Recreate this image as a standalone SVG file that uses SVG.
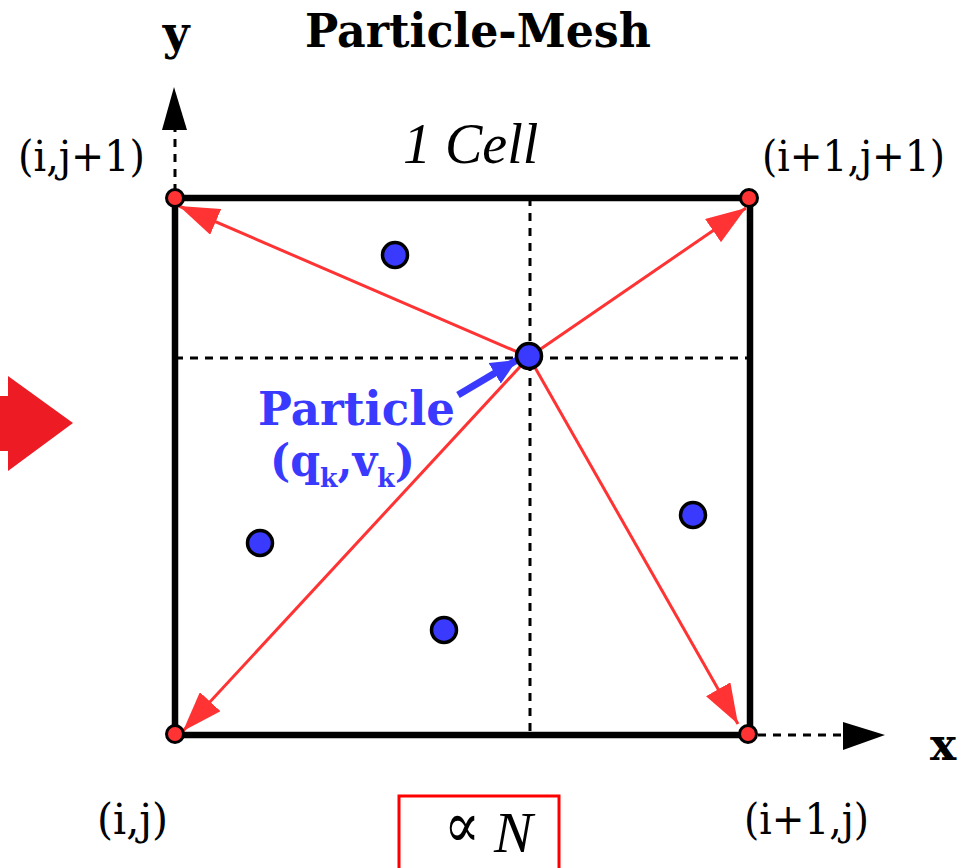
<svg xmlns="http://www.w3.org/2000/svg" width="968" height="868" viewBox="0 0 968 868">
<style>
.lbl{font-family:"DejaVu Serif","Liberation Serif",serif;font-size:42px;fill:#000}
.bold{font-family:"DejaVu Serif","Liberation Serif",serif;font-weight:bold;fill:#000}
.blue{font-family:"DejaVu Serif","Liberation Serif",serif;font-weight:bold;fill:#3a3aff}
.dash{stroke:#000;stroke-width:3;stroke-dasharray:8 7;fill:none}
.ray{stroke:#ff3333;stroke-width:3;fill:none;marker-end:url(#redHead)}
.corner{fill:#ff3333;stroke:#000;stroke-width:3}
.part{fill:#3a3aff;stroke:#000;stroke-width:3.5}
</style>
<defs>
<marker id="redHead" markerUnits="userSpaceOnUse" markerWidth="42" markerHeight="28" refX="40" refY="14" orient="auto">
<polygon points="0,0 40,14 0,28" fill="#ff3333"/>
</marker>
<marker id="blueHead" markerUnits="userSpaceOnUse" markerWidth="28" markerHeight="24" refX="26" refY="12" orient="auto">
<polygon points="0,0 26,12 0,24" fill="#3a3aff"/>
</marker>
</defs>

<g id="title"><text class="bold" x="478" y="47" font-size="46" text-anchor="middle" textLength="346" lengthAdjust="spacingAndGlyphs">Particle-Mesh</text></g>

<g id="big-arrow"><polygon points="0,396 8,396 8,376 73,423 8,471 8,451 0,451" fill="#ed1c24"/></g>

<g id="axes">
<line class="dash" x1="175" y1="192" x2="175" y2="128"/>
<polygon points="162,130 174,87 187,130" fill="#000"/>
<text class="bold" x="176" y="49" font-size="46" text-anchor="middle">y</text>
<line class="dash" x1="758" y1="735" x2="845" y2="735"/>
<polygon points="843,722 885,735 843,750" fill="#000"/>
<text class="bold" x="943" y="760" font-size="44" text-anchor="middle">x</text>
</g>

<g id="cell">
<line class="dash" x1="530" y1="198" x2="530" y2="735"/>
<line class="dash" x1="175" y1="358" x2="750" y2="358"/>
<rect x="175" y="198" width="575" height="537" fill="none" stroke="#000" stroke-width="6.5"/>
<text x="403" y="163" font-family="Liberation Serif,serif" font-style="italic" font-size="56">1 Cell</text>
</g>

<g id="connectors">
<line class="ray" x1="529" y1="357" x2="179" y2="206"/>
<line class="ray" x1="529" y1="357" x2="746" y2="208"/>
<line class="ray" x1="529" y1="357" x2="183" y2="731"/>
<line class="ray" x1="529" y1="357" x2="738" y2="724"/>
<line x1="458" y1="395" x2="517" y2="360" stroke="#3a3aff" stroke-width="7" marker-end="url(#blueHead)"/>
</g>

<g id="corner-ij1"><circle class="corner" cx="175" cy="198" r="8.5"/><text class="lbl" x="18" y="171" textLength="127" lengthAdjust="spacingAndGlyphs">(i,j+1)</text></g>
<g id="corner-i1j1"><circle class="corner" cx="749" cy="198" r="8.5"/><text class="lbl" x="762" y="171" textLength="183" lengthAdjust="spacingAndGlyphs">(i+1,j+1)</text></g>
<g id="corner-ij"><circle class="corner" cx="175" cy="734" r="8.5"/><text class="lbl" x="97" y="834" textLength="71" lengthAdjust="spacingAndGlyphs">(i,j)</text></g>
<g id="corner-i1j"><circle class="corner" cx="748" cy="734" r="8.5"/><text class="lbl" x="744" y="834" textLength="125" lengthAdjust="spacingAndGlyphs">(i+1,j)</text></g>

<g id="particle-main">
<circle class="part" cx="529" cy="356" r="12.5"/>
<text class="blue" x="258" y="425" font-size="47" textLength="197" lengthAdjust="spacingAndGlyphs">Particle</text>
<text class="blue" x="270" y="476" font-size="44" textLength="145" lengthAdjust="spacingAndGlyphs">(q<tspan font-size="26" dy="11">k</tspan><tspan dy="-11">,v</tspan><tspan font-size="26" dy="11">k</tspan><tspan dy="-11">)</tspan></text>
</g>
<g id="p1"><circle class="part" cx="395" cy="255" r="12.5"/></g>
<g id="p2"><circle class="part" cx="260" cy="543" r="12.5"/></g>
<g id="p3"><circle class="part" cx="693" cy="515" r="12.5"/></g>
<g id="p4"><circle class="part" cx="444" cy="630" r="12.5"/></g>

<g id="scaling">
<rect x="399" y="796" width="160" height="80" fill="none" stroke="#ff0000" stroke-width="3"/>
<text x="444" y="847" font-family="DejaVu Serif,serif" font-size="64" textLength="36" lengthAdjust="spacingAndGlyphs">∝</text>
<text x="494" y="852" font-family="Liberation Serif,serif" font-style="italic" font-size="58">N</text>
</g>
</svg>
